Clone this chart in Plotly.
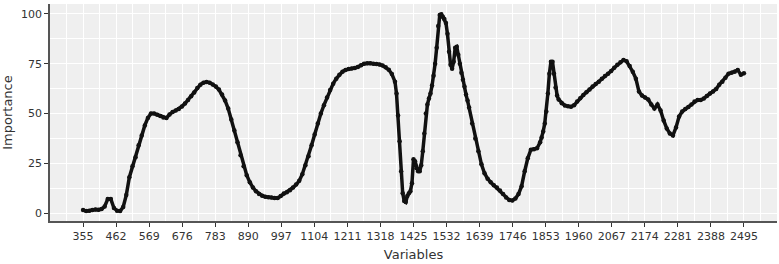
import plotly.graph_objects as go

# Variable positions (segments with different sampling)
x_a = list(range(355, 1365, 10))
x_b = list(range(1365, 1605, 5))
x_c = list(range(1605, 1845, 10))
x_d = list(range(1840, 1900, 5))
x_e = list(range(1905, 2496, 10))

imp_a = [1.5, 1.0, 1.2, 1.5, 1.8, 1.6, 2.0, 3.3, 7.0, 7.0,
         2.5, 1.2, 1.0, 3.0, 9.0, 18.0, 23.5, 28.0, 34.0, 39.0,
         44.0, 47.8, 50.0, 50.0, 49.4, 48.8, 48.0, 47.8, 49.5, 50.8,
         51.5, 52.3, 53.5, 55.0, 56.8, 58.6, 60.5, 62.8, 64.5, 65.5,
         65.8, 65.5, 64.6, 63.5, 62.0, 59.5, 56.5, 52.5, 47.0, 41.5,
         35.5, 29.0, 23.5, 19.0, 15.5, 12.8, 11.0, 9.6, 8.7, 8.2,
         7.9, 7.8, 7.6, 7.5, 8.5, 9.8, 10.5, 11.5, 12.8, 14.3,
         16.2, 19.5, 24.0, 28.5, 34.0, 39.5, 45.0, 50.0, 54.2, 58.0,
         61.8, 65.0, 67.5, 69.5, 71.0, 71.9, 72.4, 72.6, 72.8, 73.3,
         74.2, 75.0, 75.2, 75.2, 75.0, 74.9, 74.6, 74.1, 73.2, 72.0,
         69.8]
imp_b = [66.0, 60.0, 49.0, 36.0, 21.0, 10.0, 6.0, 5.5, 8.5, 10.0,
         11.0, 15.0, 27.0, 26.0, 22.5, 21.0, 21.0, 24.0, 31.0, 40.0,
         50.0, 54.5, 57.5, 60.0, 64.0, 69.0, 75.0, 83.0, 94.0, 99.5,
         99.8, 98.6, 97.5, 95.5, 90.0, 81.0, 74.5, 72.5, 76.0, 83.0,
         83.5, 79.5, 75.0, 70.5, 67.0, 63.5, 59.5, 56.5]
imp_c = [53.0, 45.0, 37.5, 31.0, 24.5, 20.0, 17.2, 15.5, 14.0, 12.8,
         11.3, 9.5, 7.8, 6.5, 6.3, 7.3, 9.5, 13.5, 21.0, 27.5,
         31.8, 32.0, 32.5, 35.5]
imp_d = [38.0, 41.0, 45.0, 51.0, 60.0, 70.0, 76.0, 76.0, 70.0, 63.0,
         59.0, 57.0]
imp_e = [55.2, 54.0, 53.6, 53.4, 54.2, 56.0, 57.7, 59.3, 60.7, 62.0,
         63.5, 64.8, 66.0, 67.5, 68.8, 70.0, 71.3, 73.0, 74.5, 75.8,
         76.9, 76.2, 73.8, 71.0, 67.5, 61.0, 59.0, 58.0, 57.0, 54.5,
         52.5, 54.5, 51.5, 46.5, 42.5, 40.0, 39.0, 43.0, 48.5, 51.0,
         52.2, 53.3, 54.5, 56.0, 56.8, 56.8, 57.5, 58.8, 60.0, 61.0,
         62.3, 64.5, 66.0, 68.0, 70.0, 70.5, 71.0, 71.8, 69.5, 70.2]

variables = x_a + x_b + x_c + x_d + x_e
importance = imp_a + imp_b + imp_c + imp_d + imp_e

tick_vals = list(range(355, 2496, 107))
tick_text = [str(v) for v in tick_vals]

fig = go.Figure()
fig.add_trace(go.Scatter(
    x=variables, y=importance, mode="lines+markers",
    line=dict(color="#111111", width=3.5),
    marker=dict(color="#111111", size=4.5),
    showlegend=False, hoverinfo="x+y"))

axis_font = dict(family="DejaVu Sans", size=11, color="#333333")
fig.update_layout(
    width=779, height=264,
    margin=dict(l=50, r=2, t=4, b=43),
    paper_bgcolor="white", plot_bgcolor="#efefef",
    font=dict(family="DejaVu Sans", size=12, color="#333333"),
    xaxis=dict(
        range=[248, 2602], tickmode="array", tickvals=tick_vals, ticktext=tick_text,
        showgrid=True, gridcolor="white", gridwidth=1.2,
        minor=dict(tick0=355, dtick=53.5, showgrid=True, gridcolor="white", gridwidth=0.6),
        ticks="outside", ticklen=4, tickcolor="#333333",
        showline=True, linecolor="#555555", linewidth=1.5,
        zeroline=False, tickfont=axis_font,
        title=dict(text="Variables", font=dict(size=13, color="#333333"), standoff=8)),
    yaxis=dict(
        range=[-4, 105], tickvals=[0, 25, 50, 75, 100],
        showgrid=True, gridcolor="white", gridwidth=1.2,
        minor=dict(tick0=0, dtick=12.5, showgrid=True, gridcolor="white", gridwidth=0.6),
        ticks="outside", ticklen=4, tickcolor="#333333",
        showline=True, linecolor="#555555", linewidth=1.5,
        zeroline=False, tickfont=axis_font,
        title=dict(text="Importance", font=dict(size=13, color="#333333"), standoff=5)),
)

fig.write_html("out.html")
